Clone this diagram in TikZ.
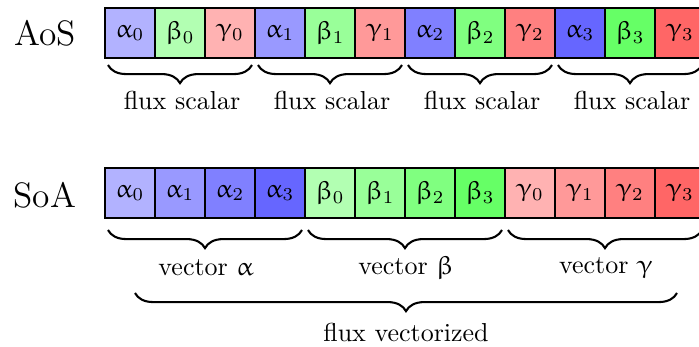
\documentclass[tikz,border=0pt]{standalone}
\usepackage{upgreek}
\usetikzlibrary{decorations.pathreplacing}
\tikzset{
  cell/.style={draw, line width=0.8pt, minimum width=19.25pt, minimum height=19.25pt,
    anchor=north west, inner sep=0pt, outer sep=0pt},
  brc/.style={decorate, decoration={brace, mirror, amplitude=7pt}, line width=0.8pt},
  lbl/.style={font=\fontsize{10}{12}\selectfont, inner sep=0pt},
  ttl/.style={font=\fontsize{13.6}{16}\selectfont, inner sep=0pt},
}
\begin{document}
\begin{tikzpicture}[x=0.385pt,y=-0.385pt]
\clip (0,0) rectangle (699,347);
% titles
\node[ttl] (aos) at (45,33) {AoS};
\node[ttl] (soa) at (45,195) {SoA};
% AoS row
\foreach \n in {0,...,3}{
  \pgfmathtruncatemacro\p{30+10*\n}
  \node[cell, fill=blue!\p]  (aa\n) at (105+150*\n, 8) {$\upalpha_{\n}$};
  \node[cell, fill=green!\p] (ab\n) at (155+150*\n, 8) {$\upbeta_{\n}$};
  \node[cell, fill=red!\p]   (ac\n) at (205+150*\n, 8) {$\upgamma_{\n}$};
  \coordinate (al\n) at (108+150*\n, 65);
  \coordinate (ar\n) at (252+150*\n, 65);
  \draw[brc] (al\n) -- (ar\n);
  \node[lbl] (fs\n) at (182+150*\n, 100) {flux scalar};
}
% SoA row
\foreach \n in {0,...,3}{
  \pgfmathtruncatemacro\p{30+10*\n}
  \node[cell, fill=blue!\p]  (sa\n) at (105+50*\n, 168) {$\upalpha_{\n}$};
  \node[cell, fill=green!\p] (sb\n) at (305+50*\n, 168) {$\upbeta_{\n}$};
  \node[cell, fill=red!\p]   (sc\n) at (505+50*\n, 168) {$\upgamma_{\n}$};
}
\coordinate (va1) at (108,230); \coordinate (va2) at (302,230);
\coordinate (vb1) at (308,230); \coordinate (vb2) at (502,230);
\coordinate (vc1) at (508,230); \coordinate (vc2) at (702,230);
\draw[brc] (va1) -- (va2);
\draw[brc] (vb1) -- (vb2);
\draw[brc] (vc1) -- (vc2);
\node[lbl] (la) at (206,268) {vector $\upalpha$};
\node[lbl] (lb) at (406,268) {vector $\upbeta$};
\node[lbl] (lc) at (606,268) {vector $\upgamma$};
\coordinate (fv1) at (135,293); \coordinate (fv2) at (677,293);
\draw[brc] (fv1) -- (fv2);
\node[lbl] (fv) at (406,332) {flux vectorized};
\end{tikzpicture}
\end{document}
